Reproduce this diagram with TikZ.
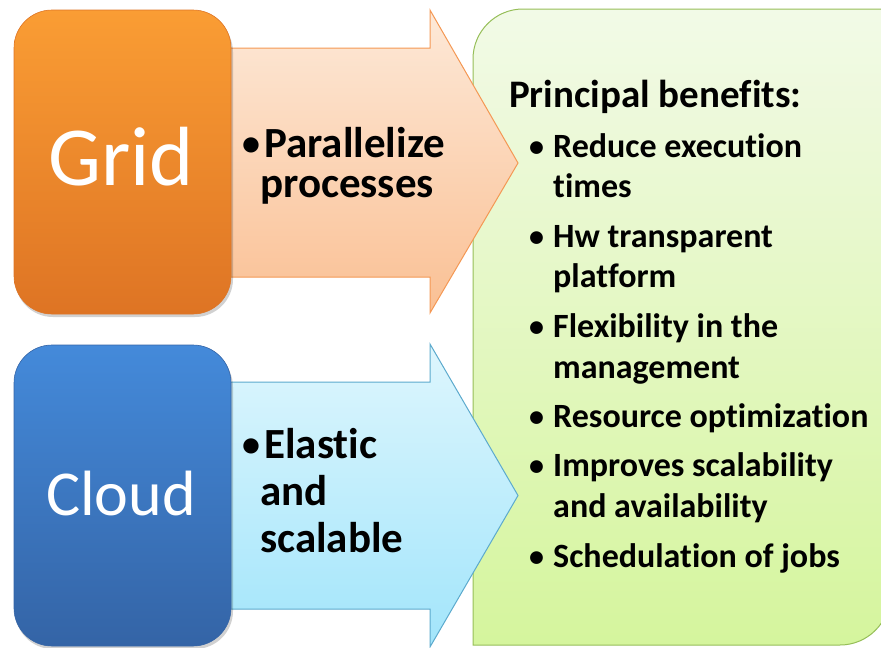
\documentclass[tikz,border=0pt]{standalone}
\usepackage{fontspec}
\setmainfont{Carlito}[Ligatures=NoCommon]
\definecolor{gridtop}{RGB}{250,157,52}
\definecolor{gridbot}{RGB}{222,116,36}
\definecolor{peachtop}{RGB}{253,233,216}
\definecolor{peachbot}{RGB}{250,192,148}
\definecolor{peachline}{RGB}{244,152,84}
\definecolor{cloudtop}{RGB}{68,138,218}
\definecolor{cloudbot}{RGB}{52,100,166}
\definecolor{cyantop}{RGB}{222,246,253}
\definecolor{cyanbot}{RGB}{162,229,251}
\definecolor{cyanline}{RGB}{92,170,205}
\definecolor{greentop}{RGB}{242,250,231}
\definecolor{greenbot}{RGB}{213,245,157}
\definecolor{greenline}{RGB}{150,190,88}
\begin{document}
\begin{tikzpicture}[x=1pt,y=-1pt,
  bigbox/.style={rounded corners=38pt, minimum width=217pt, inner sep=0pt, line width=0.6pt},
  biglabel/.style={text=white, anchor=base, inner sep=0pt},
  arrowtext/.style={font=\bfseries\fontsize{43}{46}\selectfont, anchor=base west, inner sep=0pt},
  arrowbul/.style={font=\bfseries\fontsize{36}{40}\selectfont, anchor=base west, inner sep=0pt},
  headtext/.style={font=\bfseries\fontsize{39}{44}\selectfont, anchor=base west, inner sep=0pt},
  itemtext/.style={font=\bfseries\fontsize{34}{38}\selectfont, anchor=base west, inner sep=0pt},
  bul/.style={font=\bfseries\fontsize{30}{34}\selectfont, anchor=base west, inner sep=0pt}]
\useasboundingbox (0,0) rectangle (881,648);
% green panel
\path[draw=greenline, line width=1pt, top color=greentop, bottom color=greenbot]
  (473,645) -- (473,59) .. controls (473,31.4) and (495.4,9) .. (523,9) -- (890,9)
  -- (890,595) .. controls (890,622.6) and (867.6,645) .. (840,645) -- cycle;
% block arrows
\path[draw=peachline, line width=1pt, top color=peachtop, bottom color=peachbot]
  (200,48) -- (430,48) -- (430,10) -- (518,163) -- (430,313) -- (430,277) -- (200,277) -- cycle;
\path[draw=cyanline, line width=1pt, top color=cyantop, bottom color=cyanbot]
  (200,382) -- (430,382) -- (430,344) -- (518,495.5) -- (430,647) -- (430,609) -- (200,609) -- cycle;
% shadows
\fill[black, opacity=0.18, rounded corners=38pt] (15,14) rectangle (233,317);
\fill[black, opacity=0.18, rounded corners=38pt] (15,349) rectangle (233,649);
% boxes
\node[bigbox, minimum height=304pt, draw=gridbot, top color=gridtop, bottom color=gridbot] (gridbox) at (122.5,162) {};
\node[bigbox, minimum height=301pt, draw=cloudbot, top color=cloudtop, bottom color=cloudbot] (cloudbox) at (122.5,495.5) {};
\node[biglabel, font=\fontsize{84}{90}\selectfont] (gridlabel) at (121,185) {Grid};
\node[biglabel, font=\fontsize{64}{70}\selectfont] (cloudlabel) at (121,515) {Cloud};
% arrow texts
\node[arrowbul] (gbul) at (242,155) {•};
\node[arrowtext] (g1) at (264,157) {Parallelize};
\node[arrowtext] (g2) at (260,197) {processes};
\node[arrowbul] (cbul) at (242,456) {•};
\node[arrowtext] (c1) at (264,458) {Elastic};
\node[arrowtext] (c2) at (260,505) {and};
\node[arrowtext] (c3) at (260,552) {scalable};
% benefits
\node[headtext] (head) at (509,107) {Principal benefits:};
\node[bul] (b1) at (529,156) {•};
\node[itemtext] (i1a) at (553,157) {Reduce execution};
\node[itemtext] (i1b) at (553,197) {times};
\node[bul] (b2) at (529,246) {•};
\node[itemtext] (i2a) at (553,247) {Hw transparent};
\node[itemtext] (i2b) at (553,287) {platform};
\node[bul] (b3) at (529,336) {•};
\node[itemtext] (i3a) at (553,337) {Flexibility in the};
\node[itemtext] (i3b) at (553,378) {management};
\node[bul] (b4) at (529,426) {•};
\node[itemtext] (i4a) at (553,427) {Resource optimization};
\node[bul] (b5) at (529,475) {•};
\node[itemtext] (i5a) at (553,476) {Improves scalability};
\node[itemtext] (i5b) at (553,517) {and availability};
\node[bul] (b6) at (529,566) {•};
\node[itemtext] (i6a) at (553,567) {Schedulation of jobs};
\end{tikzpicture}
\end{document}
